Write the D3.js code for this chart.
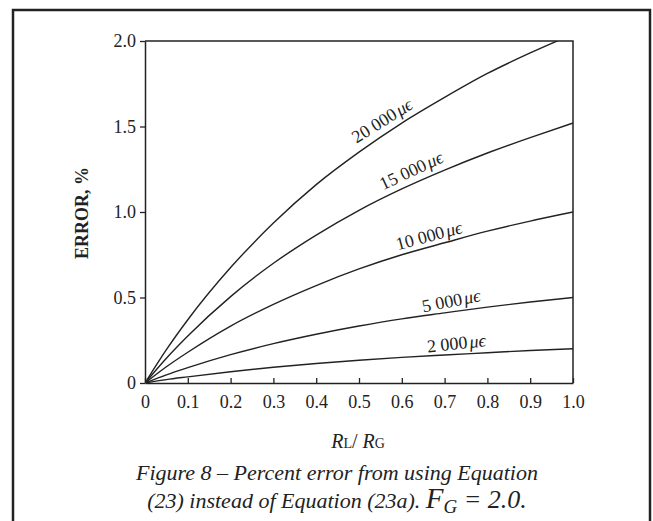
<!DOCTYPE html>
<html lang="en">
<head>
<meta charset="UTF-8">
<script src="https://d3js.org/d3.v7.min.js"></script>
<title>Figure 8 - Percent error</title>
<style>
  body { margin: 0; background: #fff; }
  text { font-family: "Liberation Serif", "DejaVu Serif", serif; fill: #222; }
</style>
</head>
<body>
<script>
// values
const ratio = [0, 0.05, 0.1, 0.2, 0.3, 0.4, 0.5, 0.6, 0.7, 0.8, 0.9, 1.0];
const err2000 = [0, 0.02, 0.036, 0.066, 0.092, 0.114, 0.133, 0.15, 0.164, 0.177, 0.19, 0.2];
const err5000 = [0, 0.048, 0.09, 0.166, 0.23, 0.285, 0.333, 0.375, 0.41, 0.444, 0.474, 0.5];
const err10000 = [0, 0.095, 0.18, 0.333, 0.46, 0.57, 0.667, 0.75, 0.82, 0.888, 0.947, 1.0];
const err15000 = [0, 0.145, 0.275, 0.505, 0.70, 0.865, 1.01, 1.135, 1.245, 1.345, 1.435, 1.52];
const err20000 = [0, 0.195, 0.37, 0.675, 0.935, 1.16, 1.35, 1.52, 1.67, 1.81, 1.93, 2.04];
const curveNames = ["2 000", "5 000", "10 000", "15 000", "20 000"];
const xTicks = [0, 0.1, 0.2, 0.3, 0.4, 0.5, 0.6, 0.7, 0.8, 0.9, 1.0];
const yTicks = [0, 0.5, 1.0, 1.5, 2.0];

const series = [err2000, err5000, err10000, err15000, err20000];

// label placement along each curve: [x value, angle, offset]
const labelPos = [[0.73, -6, 5], [0.72, -11, 5], [0.67, -15, 5], [0.635, -25, 7], [0.57, -32, 7]];

const W = 653, H = 521;
const svg = d3.select("body").append("svg").attr("width", W).attr("height", H);

// outer frame
svg.append("rect").attr("x", 13).attr("y", 10).attr("width", 637).attr("height", 530)
  .attr("fill", "none").attr("stroke", "#222").attr("stroke-width", 2.5);

const x = d3.scaleLinear().domain([0, 1]).range([145, 573]);
const y = d3.scaleLinear().domain([0, 2]).range([383, 41]);

svg.append("defs").append("clipPath").attr("id", "plot")
  .append("rect").attr("x", 145).attr("y", 41).attr("width", 428).attr("height", 342);

// box top & right
svg.append("path").attr("d", `M${x(0)},${y(2)}H${x(1)}V${y(0)}`)
  .attr("fill", "none").attr("stroke", "#222").attr("stroke-width", 1.5);

const yAxis = svg.append("g").attr("transform", `translate(${x(0)},0)`)
  .call(d3.axisLeft(y).tickValues(yTicks).tickSize(5).tickSizeOuter(0)
    .tickFormat(d => d === 0 ? "0" : d3.format(".1f")(d)));
const xAxis = svg.append("g").attr("transform", `translate(0,${y(0)})`)
  .call(d3.axisBottom(x).tickValues(xTicks).tickSize(-5).tickSizeOuter(0)
    .tickFormat(d => d === 0 ? "0" : d3.format(".1f")(d)));

[xAxis, yAxis].forEach(g => {
  g.select(".domain").attr("stroke", "#222").attr("stroke-width", 1.5);
  g.selectAll(".tick line").attr("stroke", "#222").attr("stroke-width", 1.3);
  g.selectAll(".tick text").style("font-family", "Liberation Serif").attr("font-size", 18).attr("fill", "#222");
});
xAxis.selectAll(".tick text").attr("y", 12);
yAxis.selectAll(".tick text").attr("x", -9);

const line = d3.line().x((d, i) => x(ratio[i])).y(d => y(d)).curve(d3.curveMonotoneX);

svg.append("g").attr("clip-path", "url(#plot)")
  .selectAll("path").data(series).join("path")
  .attr("d", line).attr("fill", "none").attr("stroke", "#222").attr("stroke-width", 1.4);

// curve labels
series.forEach((s, k) => {
  const [lx, ang, off] = labelPos[k];
  const i = d3.bisectLeft(ratio, lx);
  const t = (lx - ratio[i - 1]) / (ratio[i] - ratio[i - 1]);
  const ly = s[i - 1] + t * (s[i] - s[i - 1]);
  const txt = svg.append("text")
    .attr("transform", `translate(${x(lx)},${y(ly)}) rotate(${ang})`)
    .attr("text-anchor", "middle").attr("dy", -off).attr("font-size", 18);
  txt.append("tspan").text(curveNames[k]);
  txt.append("tspan").attr("font-style", "italic").attr("dx", 2).text("\u03bc\u03f5");
});

// axis titles
svg.append("text").attr("transform", "translate(88,213) rotate(-90)")
  .attr("text-anchor", "middle").attr("font-weight", "bold").attr("font-size", 18)
  .text("ERROR, %");

const xl = svg.append("text").attr("x", 358).attr("y", 448).attr("text-anchor", "middle").attr("font-size", 20);
xl.append("tspan").attr("font-style", "italic").text("R");
xl.append("tspan").attr("font-size", 14).text("L");
xl.append("tspan").text("/ ");
xl.append("tspan").attr("font-style", "italic").text("R");
xl.append("tspan").attr("font-size", 14).text("G");

// caption
svg.append("text").attr("x", 337).attr("y", 480).attr("text-anchor", "middle")
  .attr("font-style", "italic").attr("font-size", 22)
  .text("Figure 8 \u2013 Percent error from using Equation");
const cap = svg.append("text").attr("x", 337).attr("y", 508).attr("text-anchor", "middle")
  .attr("font-style", "italic").attr("font-size", 22);
cap.append("tspan").text("(23) instead of Equation (23a). ");
cap.append("tspan").attr("font-size", 29).text("F");
cap.append("tspan").attr("font-size", 19).attr("dy", 5).text("G");
cap.append("tspan").attr("font-size", 26).attr("dy", -5).text(" = 2.0.");
</script>
</body>
</html>
